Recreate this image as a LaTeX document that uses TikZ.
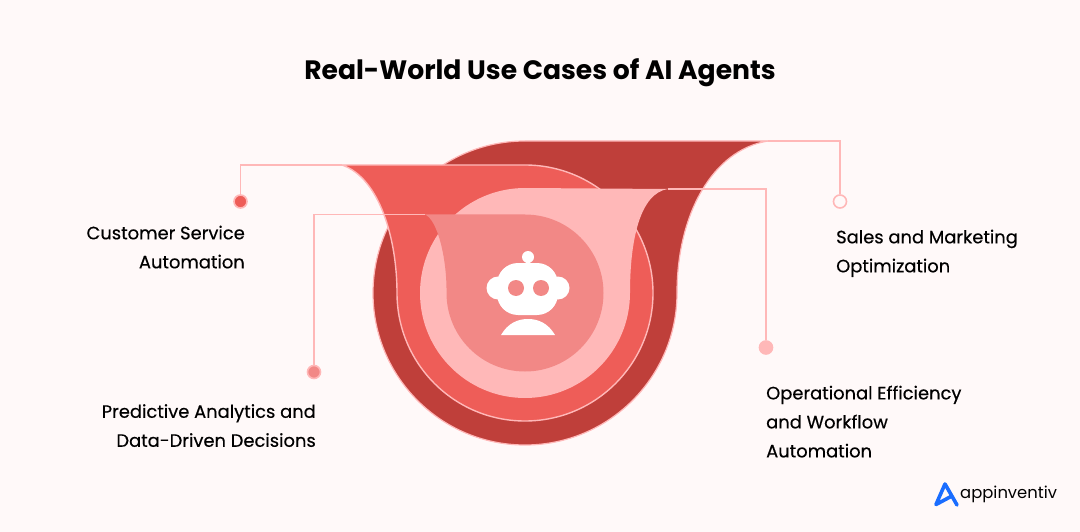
\documentclass[tikz,border=0pt]{standalone}
\usepackage{fontspec}
\setmainfont{Poppins}
\usetikzlibrary{calc}
\usetikzlibrary{positioning}
\definecolor{bgpink}{HTML}{FFF9F9}
\definecolor{ringA}{HTML}{BF3F3A}
\definecolor{ringB}{HTML}{EE5D58}
\definecolor{ringC}{HTML}{FFB8B8}
\definecolor{ringD}{HTML}{F28886}
\definecolor{logoblue}{HTML}{1A6DFF}
\tikzstyle{leader} = [draw=ringC, line width=1.6pt]
\tikzstyle{dotnode} = [draw=ringC, circle, line width=1.6pt, minimum size=13pt, inner sep=0pt]
\tikzstyle{labelnode} = [inner sep=0pt, text=black, font=\fontsize{17.9}{29}\selectfont\addfontfeature{FakeBold=0.4}]
\tikzstyle{robotpart} = [fill=white]

\begin{document}
\begin{tikzpicture}[x=1pt, y=-1pt]
    \useasboundingbox[fill=bgpink] (0,0) rectangle (1080,532);

    \coordinate (sales_end) at (768,141);
    \coordinate (cust_end) at (342,165);
    \coordinate (oper_end) at (668,189);
    \coordinate (pred_end) at (425,214.5);

    \filldraw[fill=ringA, draw=ringC, line width=1.2pt] (sales_end) .. controls (712,150) and (677,215) .. (677,293)
        arc[start angle=0, end angle=180, radius=152] arc[start angle=180, end angle=270, radius=152] -- cycle;
    \filldraw[fill=ringB, draw=ringC, line width=1.4pt] (cust_end) -- (525,165) arc[start angle=-90, end angle=180, radius=128]
        .. controls (397,240) and (380,178) .. (cust_end) -- cycle;
    \fill[ringC] (oper_end) .. controls (640,193) and (630,240) .. (630,293)
        arc[start angle=0, end angle=180, radius=105] arc[start angle=180, end angle=270, radius=105] -- cycle;
    \fill[ringD] (pred_end) -- (525,214.5) arc[start angle=-90, end angle=180, radius=78.5]
        .. controls (447,260) and (438,220) .. (pred_end) -- cycle;

    \node[dotnode, fill=ringB] (cust_dot) at (240.5,201.5) {};
    \node[dotnode, fill=ringD] (pred_dot) at (314,372) {};
    \node[dotnode, fill=bgpink] (sales_dot) at (840,201.5) {};
    \node[dotnode, fill=ringC] (oper_dot) at (766,347.5) {};
    \draw[leader] (cust_dot) |- (cust_end);
    \draw[leader] (pred_dot) |- (pred_end);
    \draw[leader] (sales_dot) |- (sales_end);
    \draw[leader] (oper_dot) |- (oper_end);

    \node (title) at (540,73) {\fontsize{26.6}{34}\selectfont\bfseries Real-World Use Cases of AI Agents};
    \node[labelnode, align=right, anchor=north east] (cust_label) at ($(cust_dot)+(4.5,24)$) {Customer Service\\Automation};
    \node[labelnode, align=right, anchor=north east] (pred_label) at ($(pred_dot)+(2,32)$) {Predictive Analytics and\\Data-Driven Decisions};
    \node[labelnode, align=left, anchor=north west] (sales_label) at ($(sales_dot)+(-4,28)$) {Sales and Marketing\\Optimization};
    \node[labelnode, align=left, anchor=north west] (oper_label) at ($(oper_dot)+(0,38)$) {Operational Efficiency\\and Workflow\\Automation};

    \coordinate (robot) at (528,288);
    \fill[robotpart] ($(robot)+(0,-31)$) circle (6);
    \fill[robotpart] ($(robot)+(-2,-27)$) rectangle ($(robot)+(2,-22)$);
    \fill[robotpart] ($(robot)+(-30,0)$) circle (11.5);
    \fill[robotpart] ($(robot)+(30,0)$) circle (11.5);
    \fill[robotpart, rounded corners=21pt] ($(robot)+(-31,-25)$) rectangle ($(robot)+(30,27)$);
    \fill[ringD] ($(robot)+(-12,0)$) circle (8);
    \fill[ringD] ($(robot)+(13,0)$) circle (8);
    \fill[robotpart] ($(robot)+(-27,47)$) .. controls ($(robot)+(-20,35)$) and ($(robot)+(-10,31)$) .. ($(robot)+(0,31)$)
        .. controls ($(robot)+(10,31)$) and ($(robot)+(20,35)$) .. ($(robot)+(27,47)$) -- cycle;

    \draw[logoblue, line width=3.6pt, line join=round, line cap=round] (950,497) -- (936,504.5) -- (945,484) -- (957,505);
    \node[anchor=west, inner sep=0pt] (logo_text) at (960,494) {\fontsize{16.4}{22}\selectfont appinventiv};
\end{tikzpicture}
\end{document}
